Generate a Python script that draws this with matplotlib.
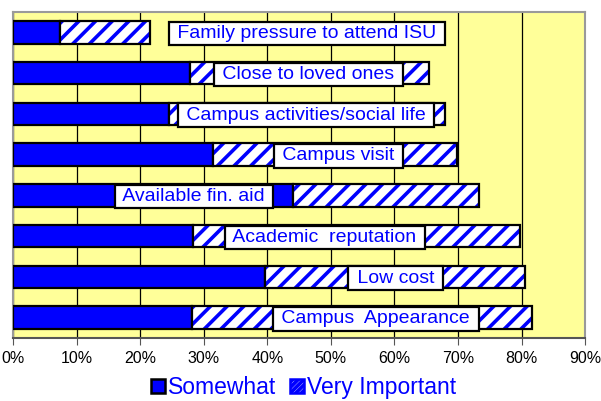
import numpy as np
import matplotlib
matplotlib.use("Agg")
import matplotlib.pyplot as plt
from matplotlib.patches import Patch

plt.rcParams['font.family'] = ['Liberation Sans', 'DejaVu Sans']
plt.rcParams['hatch.linewidth'] = 2.6

# data (percent of respondents), top to bottom
factors = ["Family pressure to attend ISU", "Close to loved ones",
           "Campus activities/social life", "Campus visit",
           "Available fin. aid", "Academic  reputation", "Low cost",
           "Campus  Appearance"]
somewhat = [7.4, 27.8, 24.6, 31.5, 44.1, 28.3, 39.7, 28.1]
very_important = [14.2, 37.6, 43.4, 38.3, 29.2, 51.4, 40.9, 53.6]
# where Excel put each category label along the bar
label_x = [46.2, 46.5, 46.1, 51.2, 28.5, 49.1, 60.2, 57.1]
xticks = np.arange(0, 100, 10)

blue = '#0000ff'

fig = plt.figure(figsize=(6.01, 4.01), dpi=100)
ax = fig.add_axes([0.0216, 0.157, 0.952, 0.813])
ax.set_facecolor('#ffff99')

y = np.arange(len(factors))
h = 0.55
ax.barh(y, somewhat, height=h, color=blue, edgecolor='black', linewidth=1.6, zorder=3)
# hatch in blue, then black outline on top
ax.barh(y, very_important, left=somewhat, height=h, color='white',
        edgecolor=blue, hatch='//', linewidth=0, zorder=3)
ax.barh(y, very_important, left=somewhat, height=h, fill=False,
        edgecolor='black', linewidth=1.6, zorder=4)

for yi, name, lx in zip(y, factors, label_x):
    ax.text(lx, yi + 0.03, " " + name + " ", ha='center', va='center', color=blue,
            fontsize=14, zorder=5,
            bbox=dict(boxstyle='square,pad=0.17', facecolor='white',
                      edgecolor='black', linewidth=1.6))

ax.set_xlim(0, 90)
ax.set_ylim(len(factors) - 0.5, -0.5)
ax.set_xticks(xticks)
ax.set_xticklabels([f"{v}%" for v in xticks], fontsize=11.5)
ax.set_yticks([])
ax.grid(axis='x', color='black', linewidth=0.9, zorder=1)
ax.tick_params(axis='x', direction='out', length=5, color='#555555', pad=4)
for s in ax.spines.values():
    s.set_color('#9a9a9a')
    s.set_linewidth(1.5)
ax.spines['bottom'].set_color('#555555')

handles = [Patch(facecolor=blue, edgecolor='black', linewidth=1.8),
           Patch(facecolor='white', edgecolor=blue, hatch='//////', linewidth=1.8)]
leg = fig.legend(handles, ["Somewhat", "Very Important"], loc='lower center',
                 bbox_to_anchor=(0.505, -0.047), ncol=2, frameon=False,
                 fontsize=16.5, labelcolor=blue, handlelength=0.6,
                 handleheight=0.6, handletextpad=0.15, columnspacing=0.6)

fig.savefig("out.png", dpi=100)
